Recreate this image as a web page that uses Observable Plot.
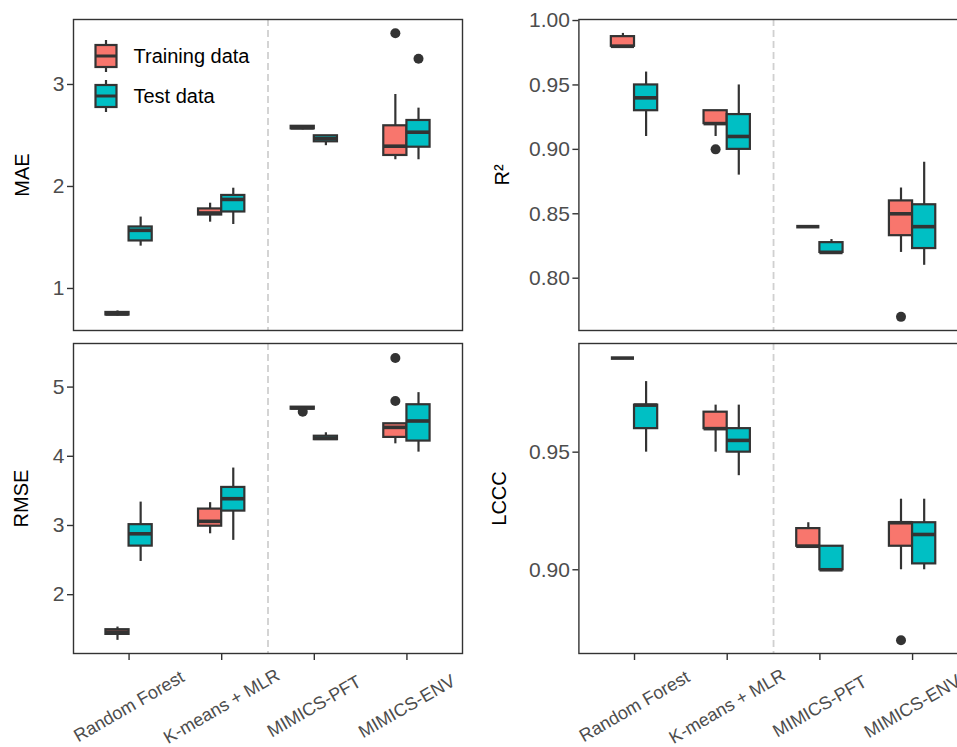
<!DOCTYPE html>
<html>
<head>
<meta charset="utf-8">
<script src="https://cdn.jsdelivr.net/npm/d3@7"></script>
<script src="https://cdn.jsdelivr.net/npm/@observablehq/plot@0.6"></script>
<style>
  body { margin: 0; background: #fff; }
  #chart { position: relative; width: 957px; height: 747px; overflow: hidden; background: #fff;
           font-family: "Liberation Sans", Arial, Helvetica, sans-serif; }
  #chart > svg { position: absolute; }
</style>
</head>
<body>
<div id="chart"></div>
<script>
const categories = ["Random Forest", "K-means + MLR", "MIMICS-PFT", "MIMICS-ENV"];
const groups = ["Training data", "Test data"];
const groupColors = ["#F8766D", "#00BFC4"];
const dividers = [1.5];

// each row: [lower whisker, Q1, median, Q3, upper whisker], one row per category
const maeTraining = [[0.73, 0.74, 0.75, 0.765, 0.78], [1.65, 1.72, 1.74, 1.78, 1.836], [2.555, 2.565, 2.575, 2.59, 2.595], [2.262, 2.304, 2.395, 2.595, 2.902]];
const maeTest = [[1.415, 1.466, 1.57, 1.603, 1.70], [1.627, 1.75, 1.873, 1.912, 1.983], [2.40, 2.438, 2.47, 2.497, 2.497], [2.262, 2.385, 2.532, 2.647, 2.768]];
const maeOutliers = [[3, "Training data", 3.503], [3, "Test data", 3.252]];

const r2Training = [[0.98, 0.98, 0.98, 0.9875, 0.99], [0.91, 0.92, 0.92, 0.93, 0.93], [0.84, 0.84, 0.84, 0.84, 0.84], [0.82, 0.833, 0.85, 0.86, 0.87]];
const r2Test = [[0.91, 0.93, 0.94, 0.95, 0.96], [0.88, 0.90, 0.91, 0.927, 0.95], [0.82, 0.82, 0.82, 0.8276, 0.83], [0.81, 0.823, 0.84, 0.857, 0.89]];
const r2Outliers = [[1, "Training data", 0.90], [3, "Training data", 0.77]];

const rmseTraining = [[1.34, 1.426, 1.46, 1.494, 1.532], [2.88, 2.99, 3.06, 3.237, 3.33], [4.68, 4.68, 4.70, 4.71, 4.71], [4.18, 4.273, 4.418, 4.47, 4.47]];
const rmseTest = [[2.48, 2.702, 2.88, 3.012, 3.338], [2.785, 3.208, 3.387, 3.55, 3.83], [4.24, 4.24, 4.26, 4.29, 4.34], [4.06, 4.22, 4.51, 4.745, 4.92]];
const rmseOutliers = [[2, "Training data", 4.645], [3, "Training data", 5.42], [3, "Training data", 4.80]];

const lcccTraining = [[0.99, 0.99, 0.99, 0.99, 0.99], [0.95, 0.96, 0.96, 0.967, 0.97], [0.91, 0.91, 0.91, 0.9175, 0.92], [0.90, 0.91, 0.92, 0.92, 0.93]];
const lcccTest = [[0.95, 0.96, 0.97, 0.97, 0.98], [0.94, 0.95, 0.955, 0.96, 0.97], [0.90, 0.90, 0.90, 0.91, 0.91], [0.90, 0.9025, 0.915, 0.92, 0.93]];
const lcccOutliers = [[3, "Training data", 0.87]];

const maeTicks = [1, 2, 3];
const r2Ticks = [0.80, 0.85, 0.90, 0.95, 1.00];
const rmseTicks = [2, 3, 4, 5];
const lcccTicks = [0.90, 0.95];

const chart = document.getElementById("chart");
const FONT = "Liberation Sans, Arial, Helvetica, sans-serif";

function panel(cfg) {
  const rows = [];
  [cfg.training, cfg.test].forEach((arr, g) => arr.forEach((s, i) =>
    rows.push({cat: i, group: groups[g], lo: s[0], q1: s[1], med: s[2], q3: s[3], hi: s[4]})));
  const pts = cfg.outliers.map(([cat, group, value]) => ({cat, group, value}));
  const half = 0.125;
  const pos = d => d.cat + (d.group === groups[0] ? -half : half);
  const marks = [
    Plot.ruleX(dividers, {stroke: "#D0D0D0", strokeWidth: 1.8, strokeDasharray: "7,4"}),
    Plot.ruleX(rows, {x: pos, y1: "lo", y2: "hi", stroke: "#333333", strokeWidth: 2.2}),
    Plot.rect(rows, {x1: d => pos(d) - half, x2: d => pos(d) + half, y1: "q1", y2: "q3", fill: "group", stroke: "#333333", strokeWidth: 2.2}),
    Plot.ruleY(rows, {y: "med", x1: d => pos(d) - half, x2: d => pos(d) + half, stroke: "#333333", strokeWidth: 3.6}),
    Plot.dot(pts, {x: pos, y: "value", r: 5, fill: "#333333", stroke: "none"}),
    Plot.frame({stroke: "#333333", strokeWidth: 1.4}),
    Plot.axisY({ticks: cfg.ticks, tickFormat: cfg.fmt, tickSize: 6, tickPadding: 3, fontSize: 21,
                fill: "#4D4D4D", stroke: "#333333", strokeWidth: 1.4, label: null}),
    Plot.text([cfg.label], {frameAnchor: "left", rotate: -90, dx: cfg.labelX - cfg.marginLeft, fontSize: 20,
                fill: "#000", textAnchor: "middle", lineAnchor: "middle"})
  ];
  if (cfg.bottom) {
    marks.push(Plot.axisX({ticks: [0, 1, 2, 3], tickFormat: i => categories[i], tickRotate: -30,
      textAnchor: "middle", lineAnchor: "middle", tickSize: 7, tickPadding: 46, fontSize: 18,
      fill: "#4D4D4D", stroke: "#333333", strokeWidth: 1.4, label: null}));
  }
  const svg = Plot.plot({
    width: cfg.width, height: cfg.height,
    marginLeft: cfg.marginLeft, marginRight: cfg.marginRight, marginTop: cfg.marginTop, marginBottom: cfg.marginBottom,
    style: {fontFamily: FONT, fontSize: "18px", background: "transparent", overflow: "visible"},
    x: {type: "linear", domain: [-0.6, 3.6], ...(cfg.bottom ? {} : {axis: null})},
    y: {domain: cfg.domain},
    color: {domain: groups, range: groupColors},
    marks
  });
  svg.style.left = cfg.left + "px";
  svg.style.top = cfg.top + "px";
  chart.appendChild(svg);
}

// labelX is measured from each panel's own left edge
const leftCol = {left: 0, width: 480, marginLeft: 73, marginRight: 18};
const rightCol = {left: 480, width: 500, marginLeft: 98.4, marginRight: 12.3};
const topRow = {top: 0, height: 332, marginTop: 19, marginBottom: 2, bottom: false};
const botRow = {top: 330, height: 417, marginTop: 13, marginBottom: 94, bottom: true};

panel({...leftCol, ...topRow, training: maeTraining, test: maeTest, outliers: maeOutliers,
       domain: [0.588, 3.637], ticks: maeTicks, fmt: d3.format("d"), label: "MAE", labelX: 22});
panel({...rightCol, ...topRow, training: r2Training, test: r2Test, outliers: r2Outliers,
       domain: [0.7594, 1.0008], ticks: r2Ticks, fmt: d3.format(".2f"), label: "R²", labelX: 22});
panel({...leftCol, ...botRow, training: rmseTraining, test: rmseTest, outliers: rmseOutliers,
       domain: [1.15, 5.63], ticks: rmseTicks, fmt: d3.format("d"), label: "RMSE", labelX: 21});
panel({...rightCol, ...botRow, training: lcccTraining, test: lcccTest, outliers: lcccOutliers,
       domain: [0.8644, 0.9962], ticks: lcccTicks, fmt: d3.format(".2f"), label: "LCCC", labelX: 19});

// legend inside the top-left panel
const leg = d3.select(chart).append("svg")
  .attr("width", 260).attr("height", 130)
  .style("left", "0px").style("top", "0px");
const keys = leg.selectAll("g").data(groups).join("g")
  .attr("transform", (d, i) => `translate(95.5,${45 + i * 40})`);
keys.append("line").attr("x1", 10.5).attr("x2", 10.5).attr("y1", -5).attr("y2", 27)
  .attr("stroke", "#333").attr("stroke-width", 2.2);
keys.append("rect").attr("width", 21).attr("height", 22)
  .attr("fill", (d, i) => groupColors[i]).attr("stroke", "#333").attr("stroke-width", 2.2);
keys.append("line").attr("x1", 0).attr("x2", 21).attr("y1", 11).attr("y2", 11)
  .attr("stroke", "#333").attr("stroke-width", 3);
keys.append("text").attr("x", 38).attr("y", 11).attr("dy", "0.35em")
  .attr("font-family", FONT).attr("font-size", 20).attr("fill", "#000").text(d => d);
</script>
</body>
</html>
